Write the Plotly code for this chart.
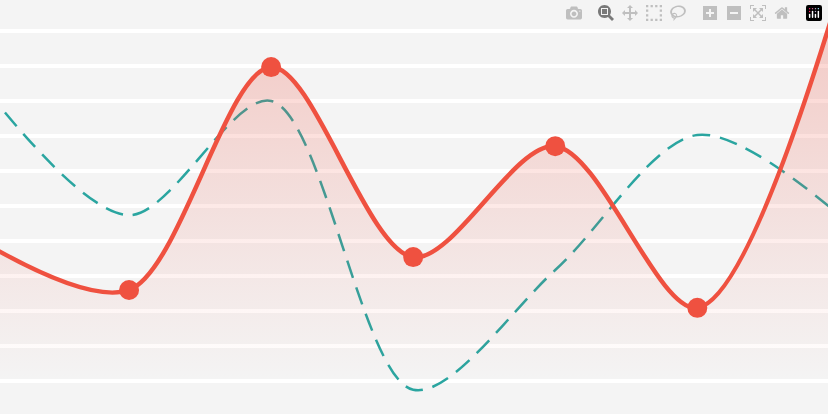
import plotly.graph_objects as go

x_vals = [0, 1, 2, 3, 4, 5, 6]
red_vals = [3.9, 2.6, 8.97, 3.54, 6.71, 2.09, 11.1]
teal_vals = [8.3, 4.74, 8.0, -0.25, 3.17, 7.03, 4.74]

red = "#ef5140"
teal = "#2aa5a0"

fig = go.Figure()
fig.add_trace(go.Scatter(
    x=x_vals, y=teal_vals, mode="lines",
    line=dict(color=teal, width=2.5, dash="18px,10px", shape="spline", smoothing=0.9),
    hoverinfo="skip"))
fig.add_trace(go.Scatter(
    x=x_vals, y=red_vals, mode="lines+markers",
    line=dict(color=red, width=4.5, shape="spline", smoothing=0.9),
    marker=dict(size=20, color=red),
    fill="tozeroy",
    fillgradient=dict(type="vertical",
                      colorscale=[[0, "rgba(239,81,64,0.0)"], [1, "rgba(239,81,64,0.28)"]]),
    hoverinfo="skip"))

fig.update_layout(
    width=828, height=414, margin=dict(l=0, r=0, t=0, b=0),
    paper_bgcolor="#f4f4f4", plot_bgcolor="#f4f4f4", showlegend=False,
    xaxis=dict(range=[0.0915, 5.92], visible=False),
    yaxis=dict(range=[-0.943, 10.886], tickvals=list(range(0, 11)), showticklabels=False,
               gridcolor="white", gridwidth=4, zeroline=False),
)
fig.write_html("out.html", post_script="document.body.style.margin='0';")
